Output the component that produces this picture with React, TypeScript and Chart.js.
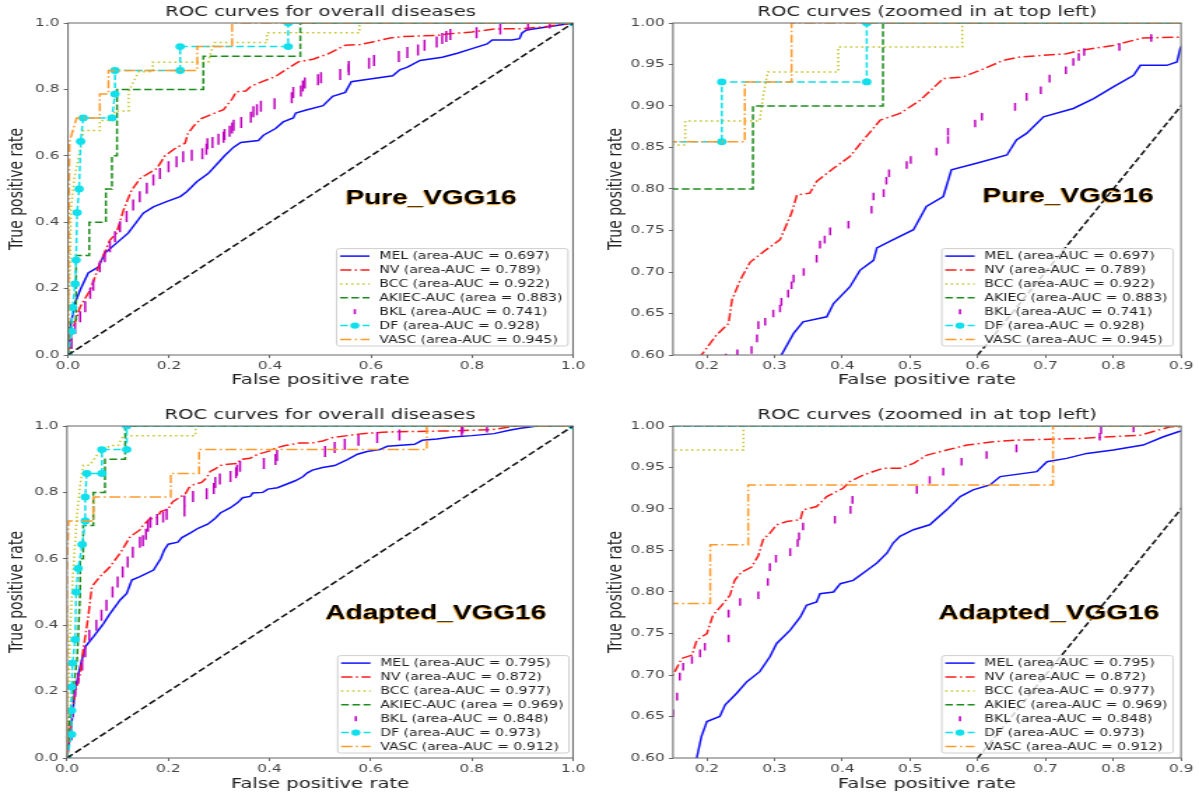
import React, { useEffect, useRef } from "react";
import { Chart, registerables } from "chart.js";

Chart.register(...registerables);

const FONT = '"DejaVu Sans", sans-serif';

// ---------------- axis ticks ----------------
const fullTickValues = [0, 0.2, 0.4, 0.6, 0.8, 1.0];
const fullTickLabels = ["0.0", "0.2", "0.4", "0.6", "0.8", "1.0"];
const zoomXTickValues = [0.2, 0.3, 0.4, 0.5, 0.6, 0.7, 0.8, 0.9];
const zoomXTickLabels = ["0.2", "0.3", "0.4", "0.5", "0.6", "0.7", "0.8", "0.9"];
const zoomYTickValues = [0.6, 0.65, 0.7, 0.75, 0.8, 0.85, 0.9, 0.95, 1.0];
const zoomYTickLabels = ["0.60", "0.65", "0.70", "0.75", "0.80", "0.85", "0.90", "0.95", "1.00"];

// ---------------- text ----------------
const fullTitle = "ROC curves for overall diseases";
const zoomTitle = "ROC curves (zoomed in at top left)";
const xAxisLabel = "False positive rate";
const yAxisLabel = "True positive rate";
const pureName = "Pure_VGG16";
const adaptedName = "Adapted_VGG16";

const pureFullLegend = [
  "MEL (area-AUC = 0.697)",
  "NV (area-AUC = 0.789)",
  "BCC (area-AUC = 0.922)",
  "AKIEC-AUC (area = 0.883)",
  "BKL (area-AUC = 0.741)",
  "DF (area-AUC = 0.928)",
  "VASC (area-AUC = 0.945)",
];
const pureZoomLegend = [
  "MEL (area-AUC = 0.697)",
  "NV (area-AUC = 0.789)",
  "BCC (area-AUC = 0.922)",
  "AKIEC (area-AUC = 0.883)",
  "BKL (area-AUC = 0.741)",
  "DF (area-AUC = 0.928)",
  "VASC (area-AUC = 0.945)",
];
const adaptedFullLegend = [
  "MEL (area-AUC = 0.795)",
  "NV (area-AUC = 0.872)",
  "BCC (area-AUC = 0.977)",
  "AKIEC-AUC (area = 0.969)",
  "BKL (area-AUC = 0.848)",
  "DF (area-AUC = 0.973)",
  "VASC (area-AUC = 0.912)",
];
const adaptedZoomLegend = [
  "MEL (area-AUC = 0.795)",
  "NV (area-AUC = 0.872)",
  "BCC (area-AUC = 0.977)",
  "AKIEC (area-AUC = 0.969)",
  "BKL (area-AUC = 0.848)",
  "DF (area-AUC = 0.973)",
  "VASC (area-AUC = 0.912)",
];

// ---------------- Pure_VGG16 ROC data ----------------
const pureMelFpr = [0, 0.004, 0.014, 0.024, 0.04, 0.06, 0.073, 0.096, 0.119, 0.149, 0.169, 0.195, 0.222, 0.235, 0.255, 0.278, 0.301, 0.31, 0.328, 0.342, 0.377, 0.387, 0.411, 0.426, 0.446, 0.451, 0.47, 0.505, 0.524, 0.549, 0.561, 0.598, 0.643, 0.657, 0.672, 0.697, 0.741, 0.771, 0.8, 0.83, 0.84, 0.879, 0.894, 0.899, 0.908, 0.974, 1.0];
const pureMelTpr = [0, 0.08, 0.157, 0.196, 0.247, 0.265, 0.307, 0.337, 0.367, 0.427, 0.446, 0.462, 0.477, 0.492, 0.522, 0.547, 0.585, 0.6, 0.626, 0.64, 0.646, 0.662, 0.682, 0.702, 0.714, 0.729, 0.737, 0.751, 0.779, 0.791, 0.823, 0.831, 0.841, 0.859, 0.867, 0.887, 0.897, 0.909, 0.923, 0.937, 0.949, 0.949, 0.953, 0.97, 0.979, 0.994, 1.0];

const pureNvFpr = [0, 0.007, 0.024, 0.044, 0.063, 0.083, 0.096, 0.11, 0.126, 0.143, 0.176, 0.192, 0.214, 0.232, 0.237, 0.249, 0.264, 0.283, 0.308, 0.325, 0.333, 0.352, 0.362, 0.387, 0.411, 0.431, 0.456, 0.485, 0.515, 0.549, 0.578, 0.603, 0.638, 0.662, 0.731, 0.751, 0.8, 0.844, 0.899, 0.95, 1.0];
const pureNvTpr = [0, 0.065, 0.145, 0.196, 0.276, 0.346, 0.367, 0.437, 0.497, 0.532, 0.562, 0.6, 0.624, 0.638, 0.666, 0.69, 0.712, 0.724, 0.739, 0.771, 0.793, 0.795, 0.809, 0.825, 0.839, 0.859, 0.883, 0.891, 0.907, 0.933, 0.935, 0.943, 0.955, 0.959, 0.963, 0.967, 0.973, 0.982, 0.983, 0.99, 1.0];

const pureBccFpr = [0, 0.0, 0.004, 0.006, 0.012, 0.02, 0.028, 0.03, 0.063, 0.063, 0.09, 0.092, 0.12, 0.12, 0.13, 0.14, 0.168, 0.168, 0.278, 0.283, 0.29, 0.394, 0.394, 0.577, 0.577, 1.0];
const pureBccTpr = [0, 0.088, 0.265, 0.441, 0.529, 0.588, 0.647, 0.676, 0.676, 0.706, 0.706, 0.735, 0.735, 0.794, 0.824, 0.853, 0.853, 0.882, 0.882, 0.912, 0.941, 0.941, 0.971, 0.971, 1.0, 1.0];

const pureAkiecFpr = [0, 0.004, 0.004, 0.016, 0.016, 0.042, 0.042, 0.075, 0.075, 0.087, 0.087, 0.097, 0.097, 0.268, 0.268, 0.46, 0.46, 1.0];
const pureAkiecTpr = [0, 0.0, 0.1, 0.1, 0.3, 0.3, 0.4, 0.4, 0.5, 0.5, 0.6, 0.6, 0.8, 0.8, 0.9, 0.9, 1.0, 1.0];

const pureBklFpr = [0.007, 0.014, 0.024, 0.034, 0.044, 0.05, 0.063, 0.073, 0.083, 0.093, 0.103, 0.116, 0.129, 0.142, 0.156, 0.169, 0.182, 0.199, 0.215, 0.228, 0.245, 0.266, 0.274, 0.276, 0.286, 0.298, 0.308, 0.31, 0.32, 0.325, 0.328, 0.343, 0.362, 0.367, 0.374, 0.382, 0.409, 0.443, 0.446, 0.461, 0.465, 0.469, 0.495, 0.501, 0.539, 0.556, 0.556, 0.596, 0.606, 0.655, 0.672, 0.693, 0.706, 0.73, 0.741, 0.749, 0.757, 0.809, 0.856, 0.911, 0.954];
const pureBklTpr = [0.035, 0.08, 0.115, 0.145, 0.186, 0.21, 0.266, 0.296, 0.326, 0.356, 0.386, 0.417, 0.452, 0.477, 0.502, 0.527, 0.547, 0.567, 0.582, 0.597, 0.602, 0.606, 0.62, 0.636, 0.64, 0.65, 0.656, 0.664, 0.674, 0.684, 0.692, 0.7, 0.716, 0.733, 0.739, 0.749, 0.757, 0.775, 0.791, 0.795, 0.81, 0.819, 0.829, 0.835, 0.845, 0.859, 0.869, 0.879, 0.887, 0.899, 0.911, 0.919, 0.933, 0.943, 0.953, 0.959, 0.965, 0.971, 0.982, 0.994, 1.0];

const pureDfFpr = [0, 0.007, 0.009, 0.014, 0.016, 0.018, 0.022, 0.025, 0.03, 0.087, 0.093, 0.093, 0.222, 0.222, 0.436, 0.436, 1.0];
const pureDfTpr = [0, 0.071, 0.143, 0.214, 0.286, 0.429, 0.5, 0.643, 0.714, 0.714, 0.786, 0.857, 0.857, 0.929, 0.929, 1.0, 1.0];

const pureVascFpr = [0, 0.002, 0.003, 0.017, 0.063, 0.063, 0.08, 0.08, 0.256, 0.256, 0.325, 0.325, 1.0];
const pureVascTpr = [0, 0.5, 0.643, 0.714, 0.714, 0.786, 0.786, 0.857, 0.857, 0.929, 0.929, 1.0, 1.0];

// ---------------- Adapted_VGG16 ROC data ----------------
const adaptedMelFpr = [0, 0.009, 0.016, 0.026, 0.036, 0.052, 0.072, 0.085, 0.105, 0.118, 0.128, 0.144, 0.171, 0.185, 0.192, 0.2, 0.219, 0.227, 0.244, 0.259, 0.278, 0.293, 0.303, 0.323, 0.338, 0.347, 0.362, 0.367, 0.387, 0.397, 0.416, 0.436, 0.451, 0.466, 0.475, 0.485, 0.505, 0.529, 0.554, 0.574, 0.593, 0.618, 0.633, 0.687, 0.702, 0.731, 0.761, 0.8, 0.844, 0.874, 0.896, 0.93, 1.0];
const adaptedMelTpr = [0, 0.104, 0.205, 0.275, 0.335, 0.365, 0.405, 0.435, 0.476, 0.496, 0.536, 0.546, 0.566, 0.6, 0.626, 0.644, 0.65, 0.664, 0.678, 0.692, 0.704, 0.722, 0.738, 0.754, 0.77, 0.784, 0.788, 0.798, 0.8, 0.81, 0.814, 0.826, 0.835, 0.847, 0.859, 0.867, 0.875, 0.881, 0.899, 0.915, 0.923, 0.929, 0.939, 0.945, 0.957, 0.961, 0.967, 0.971, 0.977, 0.987, 0.993, 1.0, 1.0];

const adaptedNvFpr = [0, 0.009, 0.016, 0.026, 0.032, 0.042, 0.049, 0.065, 0.085, 0.105, 0.125, 0.144, 0.15, 0.163, 0.178, 0.185, 0.2, 0.209, 0.224, 0.234, 0.241, 0.251, 0.266, 0.276, 0.283, 0.293, 0.303, 0.318, 0.338, 0.342, 0.362, 0.377, 0.401, 0.411, 0.431, 0.46, 0.485, 0.505, 0.525, 0.554, 0.584, 0.623, 0.657, 0.751, 0.84, 0.884, 1.0];
const adaptedNvTpr = [0, 0.124, 0.195, 0.255, 0.325, 0.426, 0.516, 0.546, 0.576, 0.617, 0.667, 0.687, 0.7, 0.72, 0.724, 0.742, 0.75, 0.772, 0.786, 0.796, 0.814, 0.824, 0.83, 0.844, 0.863, 0.871, 0.881, 0.885, 0.887, 0.899, 0.903, 0.915, 0.925, 0.933, 0.941, 0.949, 0.949, 0.955, 0.965, 0.971, 0.977, 0.981, 0.983, 0.985, 0.989, 0.999, 1.0];

const adaptedBccFpr = [0, 0.002, 0.006, 0.009, 0.012, 0.016, 0.02, 0.026, 0.032, 0.045, 0.059, 0.085, 0.101, 0.111, 0.254, 0.254, 1.0];
const adaptedBccTpr = [0, 0.147, 0.382, 0.471, 0.559, 0.647, 0.735, 0.824, 0.882, 0.882, 0.912, 0.941, 0.941, 0.971, 0.971, 1.0, 1.0];

const adaptedAkiecFpr = [0, 0.004, 0.012, 0.02, 0.026, 0.026, 0.032, 0.032, 0.052, 0.052, 0.075, 0.075, 0.115, 0.115, 1.0];
const adaptedAkiecTpr = [0, 0.1, 0.2, 0.3, 0.5, 0.6, 0.6, 0.7, 0.7, 0.8, 0.8, 0.9, 0.9, 1.0, 1.0];

const adaptedBklFpr = [0.009, 0.012, 0.016, 0.022, 0.03, 0.036, 0.044, 0.058, 0.068, 0.078, 0.09, 0.1, 0.11, 0.12, 0.13, 0.144, 0.15, 0.156, 0.16, 0.165, 0.178, 0.19, 0.197, 0.232, 0.232, 0.249, 0.276, 0.29, 0.293, 0.302, 0.323, 0.334, 0.336, 0.342, 0.389, 0.412, 0.415, 0.51, 0.529, 0.549, 0.576, 0.613, 0.657, 0.78, 0.782, 0.83];
const adaptedBklTpr = [0.07, 0.14, 0.2, 0.24, 0.28, 0.32, 0.37, 0.4, 0.43, 0.46, 0.5, 0.53, 0.56, 0.59, 0.62, 0.65, 0.654, 0.674, 0.698, 0.71, 0.718, 0.726, 0.734, 0.744, 0.774, 0.788, 0.796, 0.812, 0.83, 0.84, 0.848, 0.859, 0.867, 0.879, 0.887, 0.899, 0.911, 0.923, 0.935, 0.945, 0.957, 0.965, 0.973, 0.987, 0.995, 0.997];

const adaptedDfFpr = [0, 0.009, 0.009, 0.009, 0.011, 0.016, 0.018, 0.022, 0.03, 0.036, 0.036, 0.039, 0.069, 0.069, 0.118, 0.118, 1.0];
const adaptedDfTpr = [0, 0.071, 0.143, 0.214, 0.286, 0.357, 0.5, 0.571, 0.643, 0.714, 0.786, 0.857, 0.857, 0.929, 0.929, 1.0, 1.0];

const adaptedVascFpr = [0, 0, 0.003, 0.052, 0.052, 0.205, 0.205, 0.261, 0.261, 0.711, 0.711, 1.0];
const adaptedVascTpr = [0, 0.571, 0.714, 0.714, 0.786, 0.786, 0.857, 0.857, 0.929, 0.929, 1.0, 1.0];

// chance line
const chanceFpr = [0, 1];
const chanceTpr = [0, 1];

// ---------------- styles ----------------
type Kind = "line" | "tick" | "marker";
const classStyles: { color: string; dash: number[]; kind: Kind }[] = [
  { color: "#1010ff", dash: [], kind: "line" }, // MEL
  { color: "#ff1a1a", dash: [8, 2.5, 1.5, 2.5], kind: "line" }, // NV
  { color: "#c4c42a", dash: [1.5, 2.5], kind: "line" }, // BCC
  { color: "#1c8c1c", dash: [5.5, 2.5], kind: "line" }, // AKIEC
  { color: "#bf00bf", dash: [], kind: "tick" }, // BKL
  { color: "#10e0ec", dash: [5.5, 2.5], kind: "marker" }, // DF
  { color: "#ff9a2a", dash: [8, 2.5, 1.5, 2.5], kind: "line" }, // VASC
];

const pureSeries = [
  [pureMelFpr, pureMelTpr],
  [pureNvFpr, pureNvTpr],
  [pureBccFpr, pureBccTpr],
  [pureAkiecFpr, pureAkiecTpr],
  [pureBklFpr, pureBklTpr],
  [pureDfFpr, pureDfTpr],
  [pureVascFpr, pureVascTpr],
];
const adaptedSeries = [
  [adaptedMelFpr, adaptedMelTpr],
  [adaptedNvFpr, adaptedNvTpr],
  [adaptedBccFpr, adaptedBccTpr],
  [adaptedAkiecFpr, adaptedAkiecTpr],
  [adaptedBklFpr, adaptedBklTpr],
  [adaptedDfFpr, adaptedDfTpr],
  [adaptedVascFpr, adaptedVascTpr],
];

type PanelCfg = {
  key: string;
  left: number;
  top: number;
  cssW: number;
  cssH: number;
  intW: number;
  plot: [number, number, number, number]; // page coords l,t,r,b
  zoom: boolean;
  series: number[][][];
  legend: string[];
  title: string;
  name: string;
  nameFx: number;
  nameFy: number;
  legendRight: number; // css px
  legendBottom: number;
  xTitlePad: number;
};

const panels: PanelCfg[] = [
  {
    key: "tl", left: 0, top: 0, cssW: 599, cssH: 397, intW: 428,
    plot: [68, 23, 573, 355], zoom: false, series: pureSeries, legend: pureFullLegend,
    title: fullTitle, name: pureName, nameFx: 0.719, nameFy: 0.53, legendRight: 5, legendBottom: 9, xTitlePad: 8.4,
  },
  {
    key: "tr", left: 599, top: 0, cssW: 600, cssH: 397, intW: 429,
    plot: [673, 23, 1181, 355], zoom: true, series: pureSeries, legend: pureZoomLegend,
    title: zoomTitle, name: pureName, nameFx: 0.778, nameFy: 0.524, legendRight: 8, legendBottom: 9, xTitlePad: 8.4,
  },
  {
    key: "bl", left: 0, top: 397, cssW: 599, cssH: 397, intW: 428,
    plot: [67, 426, 573, 758], zoom: false, series: adaptedSeries, legend: adaptedFullLegend,
    title: fullTitle, name: adaptedName, nameFx: 0.729, nameFy: 0.566, legendRight: 4, legendBottom: 5, xTitlePad: 1.4,
  },
  {
    key: "br", left: 599, top: 397, cssW: 600, cssH: 397, intW: 429,
    plot: [673, 426, 1181, 758], zoom: true, series: adaptedSeries, legend: adaptedZoomLegend,
    title: zoomTitle, name: adaptedName, nameFx: 0.74, nameFy: 0.566, legendRight: 8, legendBottom: 5, xTitlePad: 1.4,
  },
];

function buildDatasets(series: number[][][], zoom: boolean) {
  const ds: any[] = series.map(([fpr, tpr], i) => {
    const st = classStyles[i];
    const data = fpr.map((x, j) => ({ x, y: tpr[j] }));
    const base: any = { data, borderColor: st.color, backgroundColor: st.color, order: 10 - i };
    if (st.kind === "tick") {
      return {
        ...base, showLine: false, pointStyle: "line", pointRotation: 90,
        pointRadius: zoom ? 3.8 : 5.5, pointBorderWidth: 1.5, pointBorderColor: st.color,
      };
    }
    if (st.kind === "marker") {
      return {
        ...base, showLine: true, borderWidth: 1.5, borderDash: st.dash,
        pointStyle: "circle", pointRadius: 3.4, pointBorderWidth: 0, pointBackgroundColor: st.color,
      };
    }
    return { ...base, showLine: true, borderWidth: 1.5, borderDash: st.dash, pointRadius: 0 };
  });
  ds.push({
    data: chanceFpr.map((x, j) => ({ x, y: chanceTpr[j] })),
    borderColor: "#111", borderWidth: 1.5, borderDash: [5.5, 2.5], showLine: true, pointRadius: 0, order: 0,
  });
  return ds;
}

function makeDecor(p: PanelCfg, k: number) {
  return {
    id: "decor",
    afterDatasetsDraw(chart: any) {
      const { ctx, chartArea: ca } = chart;
      ctx.save();
      ctx.strokeStyle = "#666";
      ctx.lineWidth = 1;
      ctx.strokeRect(ca.left, ca.top, ca.right - ca.left, ca.bottom - ca.top);
      ctx.restore();
    },
    afterDraw(chart: any) {
      const { ctx, chartArea: ca } = chart;
      ctx.save();
      // title
      ctx.font = `14px ${FONT}`;
      ctx.fillStyle = "#222";
      ctx.textAlign = "center";
      ctx.textBaseline = "middle";
      ctx.fillText(p.title, (ca.left + ca.right) / 2, ca.top - 10.5);

      // model name annotation
      const nx = ca.left + p.nameFx * (ca.right - ca.left);
      const ny = ca.top + p.nameFy * (ca.bottom - ca.top);
      ctx.font = `bold 20px "Liberation Sans", Arial, sans-serif`;
      ctx.fillStyle = "rgba(255,150,0,0.85)";
      ctx.fillText(p.name, nx - 0.6, ny + 1);
      ctx.fillStyle = "#000";
      ctx.fillText(p.name, nx, ny);

      // legend
      ctx.font = `10px ${FONT}`;
      const tw = Math.max(...p.legend.map((l) => ctx.measureText(l).width));
      const rowH = 13.9;
      const boxW = 30.5 + tw + 4;
      const boxH = 7.5 + 6 * rowH + 6.5;
      const bx = ca.right - p.legendRight / k - boxW;
      const by = ca.bottom - p.legendBottom - boxH;
      ctx.beginPath();
      if ((ctx as any).roundRect) (ctx as any).roundRect(bx, by, boxW, boxH, 2);
      else ctx.rect(bx, by, boxW, boxH);
      ctx.fillStyle = "rgba(255,255,255,0.8)";
      ctx.fill();
      ctx.strokeStyle = "#cfcfcf";
      ctx.lineWidth = 1;
      ctx.stroke();
      ctx.textAlign = "left";
      ctx.textBaseline = "middle";
      p.legend.forEach((label, i) => {
        const st = classStyles[i];
        const cy = by + 7.5 + i * rowH;
        const hx0 = bx + 2.5;
        const hx1 = bx + 23.5;
        ctx.strokeStyle = st.color;
        ctx.fillStyle = st.color;
        if (st.kind === "tick") {
          ctx.setLineDash([]);
          ctx.lineWidth = 1.6;
          ctx.beginPath();
          ctx.moveTo((hx0 + hx1) / 2, cy - 2.5);
          ctx.lineTo((hx0 + hx1) / 2, cy + 2.5);
          ctx.stroke();
        } else {
          ctx.setLineDash(st.dash);
          ctx.lineWidth = 1.5;
          ctx.beginPath();
          ctx.moveTo(hx0, cy);
          ctx.lineTo(hx1, cy);
          ctx.stroke();
          ctx.setLineDash([]);
          if (st.kind === "marker") {
            ctx.beginPath();
            ctx.arc((hx0 + hx1) / 2, cy, 3.2, 0, Math.PI * 2);
            ctx.fill();
          }
        }
        ctx.fillStyle = "#222";
        ctx.fillText(label, bx + 30.5, cy + 0.5);
      });
      ctx.restore();
    },
  };
}

function buildConfig(p: PanelCfg): any {
  const k = p.cssW / p.intW;
  const leftInt = (p.plot[0] - p.left) / k;
  const rightPad = p.intW - (p.plot[2] - p.left) / k;
  const topPad = p.plot[1] - p.top;
  const bottomH = p.cssH - (p.plot[3] - p.top);
  const xVals = p.zoom ? zoomXTickValues : fullTickValues;
  const xLabs = p.zoom ? zoomXTickLabels : fullTickLabels;
  const yVals = p.zoom ? zoomYTickValues : fullTickValues;
  const yLabs = p.zoom ? zoomYTickLabels : fullTickLabels;
  const tickFont = { family: FONT, size: 11 };
  return {
    type: "scatter",
    data: { datasets: buildDatasets(p.series, p.zoom) },
    options: {
      responsive: false,
      animation: false,
      events: [],
      layout: { padding: { left: 0, top: topPad, right: rightPad, bottom: 0 }, autoPadding: false },
      plugins: { legend: { display: false }, title: { display: false }, tooltip: { enabled: false } },
      scales: {
        x: {
          type: "linear",
          position: "bottom",
          min: p.zoom ? 0.15 : 0,
          max: p.zoom ? 0.9 : 1,
          afterBuildTicks: (s: any) => {
            s.ticks = xVals.map((v) => ({ value: v }));
          },
          afterFit: (s: any) => {
            s.height = bottomH;
          },
          ticks: {
            callback: (_v: any, i: number) => xLabs[i],
            font: tickFont,
            color: "#444",
            padding: 1.5,
            maxRotation: 0,
            autoSkip: false,
          },
          grid: { display: true, drawOnChartArea: false, drawTicks: true, tickLength: 3, color: "#666" },
          border: { display: false },
          title: {
            display: true,
            text: xAxisLabel,
            font: { family: FONT, size: 14 },
            color: "#222",
            padding: { top: 0, bottom: p.xTitlePad },
          },
        },
        y: {
          type: "linear",
          position: "left",
          min: p.zoom ? 0.6 : 0,
          max: 1,
          afterBuildTicks: (s: any) => {
            s.ticks = yVals.map((v) => ({ value: v }));
          },
          afterFit: (s: any) => {
            s.width = leftInt;
          },
          ticks: {
            callback: (_v: any, i: number) => yLabs[i],
            font: tickFont,
            color: "#444",
            padding: 3,
            autoSkip: false,
          },
          grid: { display: true, drawOnChartArea: false, drawTicks: true, tickLength: 3, color: "#666" },
          border: { display: false },
          title: {
            display: true,
            text: yAxisLabel,
            font: { family: FONT, size: 14 },
            color: "#222",
            padding: { top: 3.7, bottom: 0 },
          },
        },
      },
    },
    plugins: [makeDecor(p, k)],
  };
}

function Panel({ p }: { p: PanelCfg }) {
  const ref = useRef<HTMLCanvasElement | null>(null);
  useEffect(() => {
    if (!ref.current) return;
    const chart = new Chart(ref.current, buildConfig(p));
    return () => chart.destroy();
  }, [p]);
  return (
    <canvas
      ref={ref}
      width={p.intW}
      height={p.cssH}
      style={{ position: "absolute", left: p.left, top: p.top, width: p.cssW + "px", height: p.cssH + "px" }}
    />
  );
}

export default function App() {
  return (
    <div style={{ position: "absolute", left: 0, top: 0, width: 1199, height: 794, background: "#fff", overflow: "hidden" }}>
      {panels.map((p) => (
        <Panel key={p.key} p={p} />
      ))}
    </div>
  );
}
